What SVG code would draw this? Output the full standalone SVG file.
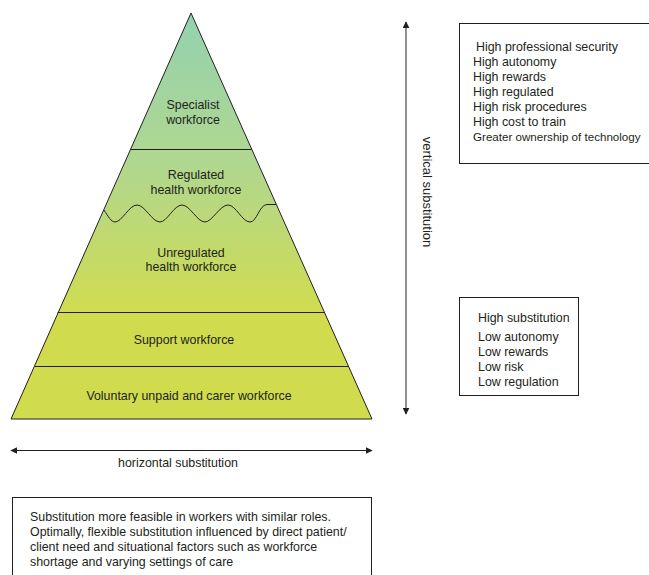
<svg xmlns="http://www.w3.org/2000/svg" width="649" height="575" viewBox="0 0 649 575">
<defs>
<linearGradient id="g" gradientUnits="userSpaceOnUse" x1="0" y1="13" x2="0" y2="312">
<stop offset="0" stop-color="#93d2af"/>
<stop offset="0.5" stop-color="#b0d790"/>
<stop offset="1" stop-color="#d0dc50"/>
</linearGradient>
<marker id="ah" viewBox="0 0 10 10" refX="9" refY="5" markerWidth="7" markerHeight="7" orient="auto-start-reverse" markerUnits="userSpaceOnUse">
<path d="M0,0 L10,5 L0,10 Z" fill="#231f20"/>
</marker>
<clipPath id="tri"><path d="M191,13 L372,419 L11,419 Z"/></clipPath>
</defs>
<style>
text{font-family:"Liberation Sans",Arial,sans-serif;font-size:12.4px;fill:#231f20}
.c{text-anchor:middle}
.ln{stroke:#231f20;stroke-width:1;fill:none}
.box{fill:#fff;stroke:#231f20;stroke-width:1}
</style>
<g id="pyramid">
<path d="M191,13 L372,419 L11,419 Z" fill="url(#g)"/>
<rect x="0" y="312.5" width="400" height="107" fill="#d0dc4e" clip-path="url(#tri)"/>
<path d="M191,13 L372,419 L11,419 Z" class="ln"/>
</g>
<g id="specialist">
<line x1="130.5" y1="149.5" x2="251.5" y2="149.5" class="ln"/>
<text class="c" x="193" y="109">Specialist</text>
<text class="c" x="193" y="124">workforce</text>
</g>
<g id="regulated">
<path class="ln" d="M104,210 C108,216 111,222 115,222 C122,222 129,205 137,205 C145,205 152,222 160,222 C167,222 174,205 182,205 C190,205 197,222 205,222 C212,222 220,205 228,205 C236,205 242,222 250,222 C257,222 259,205 267,204.5 L276,204.5"/>
<text class="c" x="196" y="179">Regulated</text>
<text class="c" x="196" y="194">health workforce</text>
</g>
<g id="unregulated">
<text class="c" x="191" y="257">Unregulated</text>
<text class="c" x="191" y="271">health workforce</text>
</g>
<g id="support">
<line x1="57.6" y1="312.5" x2="324.4" y2="312.5" class="ln"/>
<text class="c" x="184" y="344">Support workforce</text>
</g>
<g id="voluntary">
<line x1="35" y1="366.5" x2="348" y2="366.5" class="ln"/>
<text class="c" x="189" y="400">Voluntary unpaid and carer workforce</text>
</g>
<g id="connectors">
<line x1="406" y1="22" x2="406" y2="414" class="ln" marker-start="url(#ah)" marker-end="url(#ah)"/>
<line x1="11" y1="450.5" x2="372" y2="450.5" class="ln" marker-start="url(#ah)" marker-end="url(#ah)"/>
</g>
<g id="vertical-label">
<text class="c" transform="translate(423,192) rotate(90)" style="font-size:13px">vertical substitution</text>
</g>
<g id="horizontal-label">
<text class="c" x="178" y="467">horizontal substitution</text>
</g>
<g id="high-box">
<rect x="459.5" y="23.5" width="200" height="140" class="box"/>
<text x="476" y="51">High professional security</text>
<text x="473" y="66">High autonomy</text>
<text x="473" y="81">High rewards</text>
<text x="473" y="96">High regulated</text>
<text x="473" y="111">High risk procedures</text>
<text x="473" y="126">High cost to train</text>
<text x="473" y="141" style="font-size:11.6px">Greater ownership of technology</text>
</g>
<g id="low-box">
<rect x="459.5" y="297.5" width="119" height="98" class="box"/>
<text x="478" y="322">High substitution</text>
<text x="478" y="341">Low autonomy</text>
<text x="478" y="356">Low rewards</text>
<text x="478" y="371">Low risk</text>
<text x="478" y="386">Low regulation</text>
</g>
<g id="note-box">
<rect x="12.5" y="497.5" width="359" height="90" class="box"/>
<text x="30" y="521">Substitution more feasible in workers with similar roles.</text>
<text x="30" y="536">Optimally, flexible substitution influenced by direct patient/</text>
<text x="30" y="551">client need and situational factors such as workforce</text>
<text x="30" y="566">shortage and varying settings of care</text>
</g>
</svg>
